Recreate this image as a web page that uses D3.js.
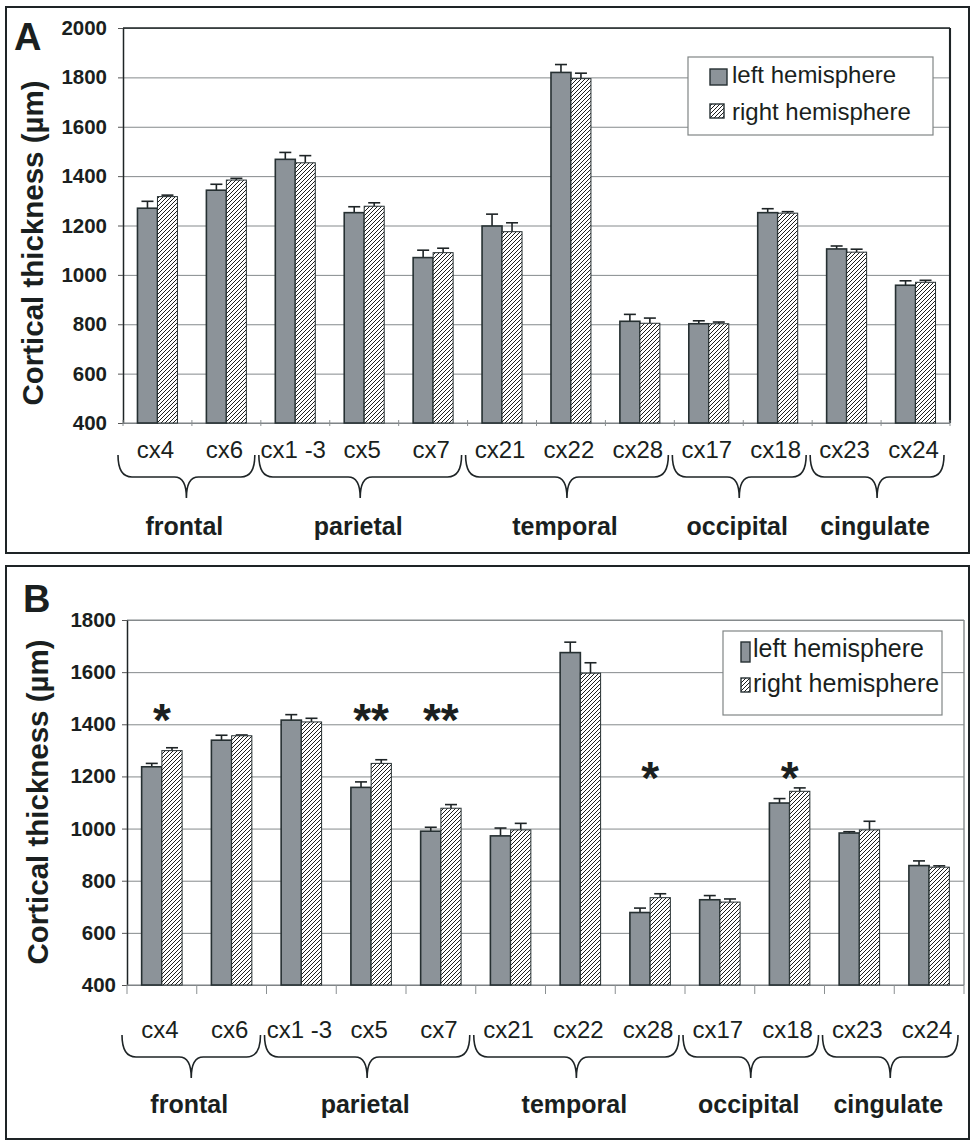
<!DOCTYPE html>
<html>
<head>
<meta charset="utf-8">
<script src="https://cdn.jsdelivr.net/npm/d3@7"></script>
<style>
  body { margin: 0; background: #fff; }
  svg { display: block; font-family: "Liberation Sans", Arial, sans-serif; }
</style>
</head>
<body>
<div id="chart"></div>
<script>
// cortical thickness per area, left vs right hemisphere (means and error bar heights)
var categories = ["cx4", "cx6", "cx1 -3", "cx5", "cx7", "cx21", "cx22", "cx28", "cx17", "cx18", "cx23", "cx24"];
var groupNames = ["frontal", "parietal", "temporal", "occipital", "cingulate"];
var groupSizes = [2, 3, 3, 2, 2];
var seriesNames = ["left hemisphere", "right hemisphere"];

// panel A
var leftA = [1270, 1343, 1468, 1252, 1070, 1198, 1820, 812, 802, 1252, 1105, 958];
var leftErrA = [28, 24, 28, 24, 30, 48, 32, 28, 12, 16, 12, 18];
var rightA = [1317, 1384, 1454, 1278, 1090, 1175, 1795, 804, 802, 1250, 1092, 970];
var rightErrA = [6, 7, 29, 14, 18, 36, 22, 21, 7, 6, 12, 8];
var ticksA = [400, 600, 800, 1000, 1200, 1400, 1600, 1800, 2000];

// panel B
var leftB = [1237, 1339, 1416, 1158, 990, 972, 1675, 678, 727, 1098, 983, 858];
var leftErrB = [13, 19, 21, 21, 15, 30, 40, 17, 16, 17, 5, 18];
var rightB = [1299, 1356, 1409, 1250, 1078, 995, 1596, 735, 718, 1143, 995, 852];
var rightErrB = [11, 3, 14, 14, 14, 25, 40, 15, 12, 13, 33, 5];
var ticksB = [400, 600, 800, 1000, 1200, 1400, 1600, 1800];

// significance marks in panel B
var sigCats = ["cx4", "cx5", "cx7", "cx28", "cx18"];
var sigMarks = ["*", "**", "**", "*", "*"];
var sigLevel = [1455, 1455, 1455, 1232, 1232];

var svg = d3.select("#chart").append("svg")
    .attr("width", 971)
    .attr("height", 1140);

var defs = svg.append("defs");
var pat = defs.append("pattern")
    .attr("id", "hatch")
    .attr("patternUnits", "userSpaceOnUse")
    .attr("width", 4)
    .attr("height", 4);
pat.append("rect").attr("width", 4).attr("height", 4).attr("fill", "#fff");
pat.append("path")
    .attr("d", "M-1,1 l2,-2 M0,4 l4,-4 M3,5 l2,-2")
    .attr("stroke", "#1e1e1e")
    .attr("stroke-width", 1);

var leftFill = "#8c9399";
var barStroke = "#263032";

function drawPanel(cfg) {
  var g = svg.append("g");

  // panel frame
  g.append("rect")
      .attr("x", cfg.box[0]).attr("y", cfg.box[1])
      .attr("width", cfg.box[2]).attr("height", cfg.box[3])
      .attr("fill", "none").attr("stroke", "#1e2426").attr("stroke-width", 2);

  g.append("text")
      .attr("x", cfg.letterPos[0]).attr("y", cfg.letterPos[1])
      .attr("font-size", 38).attr("font-weight", "bold").attr("fill", "#1a1f20")
      .text(cfg.letter);

  var x = d3.scaleBand()
      .domain(categories)
      .range([cfg.left, cfg.right])
      .paddingInner(0).paddingOuter(0);

  var y = d3.scaleLinear()
      .domain(cfg.domain)
      .range([cfg.bottom, cfg.top]);

  var barW = x.bandwidth() * 0.29;
  var xs = d3.scaleBand()
      .domain(["left", "right"])
      .range([x.bandwidth() / 2 - barW, x.bandwidth() / 2 + barW]);

  // grid
  g.append("g")
      .attr("transform", "translate(" + cfg.left + ",0)")
      .call(d3.axisLeft(y).tickValues(cfg.ticks).tickSize(-(cfg.right - cfg.left)).tickFormat(""))
      .call(function(a) { a.select(".domain").remove(); })
      .selectAll("line").attr("stroke", "#858a8c").attr("stroke-width", 1);

  // plot border top / right
  g.append("line")
      .attr("x1", cfg.left).attr("x2", cfg.right).attr("y1", cfg.top).attr("y2", cfg.top)
      .attr("stroke", cfg.frameColor).attr("stroke-width", cfg.frameWidth);
  g.append("line")
      .attr("x1", cfg.right).attr("x2", cfg.right).attr("y1", cfg.top).attr("y2", cfg.bottom)
      .attr("stroke", cfg.frameColor).attr("stroke-width", cfg.frameWidth * 1.4);

  // y axis
  var yAxis = g.append("g")
      .attr("transform", "translate(" + cfg.left + ",0)")
      .call(d3.axisLeft(y).tickValues(cfg.ticks).tickFormat(d3.format("d"))
        .tickSize(5).tickPadding(cfg.tickPad).tickSizeOuter(0));
  yAxis.select(".domain").attr("stroke", "#1e2426").attr("stroke-width", 1.5);
  yAxis.selectAll(".tick line").attr("stroke", "#555");
  yAxis.selectAll(".tick text")
      .attr("font-size", 20.5).attr("font-weight", "bold").attr("fill", "#1a1f20")
      .attr("font-family", "Liberation Sans, Arial, sans-serif");

  g.append("text")
      .attr("transform", "translate(" + cfg.yLabelPos[0] + "," + cfg.yLabelPos[1] + ") rotate(-90)")
      .attr("text-anchor", "middle")
      .attr("dominant-baseline", "central")
      .attr("font-size", 29.5).attr("font-weight", "bold").attr("fill", "#1a1f20")
      .text("Cortical thickness (µm)");

  // baseline + category separators
  g.append("line")
      .attr("x1", cfg.left).attr("x2", cfg.right).attr("y1", cfg.bottom).attr("y2", cfg.bottom)
      .attr("stroke", "#7a7f81").attr("stroke-width", 1.2);
  var seps = categories.map(function(c) { return x(c); }).concat([cfg.right]);
  g.selectAll(".sep").data(seps).enter().append("line")
      .attr("x1", function(d) { return d; }).attr("x2", function(d) { return d; })
      .attr("y1", cfg.bottom - cfg.sepUp).attr("y2", cfg.bottom + cfg.sepDown)
      .attr("stroke", "#8a8f91").attr("stroke-width", 1);

  // bars
  var rows = categories.map(function(c, i) {
    return [
      { cat: c, key: "left", v: cfg.left_[i], e: cfg.leftErr[i] },
      { cat: c, key: "right", v: cfg.right_[i], e: cfg.rightErr[i] }
    ];
  });
  var flat = d3.merge(rows);

  // error bars drawn first so the bar outline sits over them
  var eb = g.selectAll(".err").data(flat).enter().append("g").attr("class", "err");
  eb.append("line")
      .attr("x1", function(d) { return x(d.cat) + xs(d.key) + xs.bandwidth() / 2; })
      .attr("x2", function(d) { return x(d.cat) + xs(d.key) + xs.bandwidth() / 2; })
      .attr("y1", function(d) { return y(d.v); })
      .attr("y2", function(d) { return y(d.v + d.e); })
      .attr("stroke", "#1e2426").attr("stroke-width", 1.6);
  eb.append("line")
      .attr("x1", function(d) { return x(d.cat) + xs(d.key) + xs.bandwidth() / 2 - 6; })
      .attr("x2", function(d) { return x(d.cat) + xs(d.key) + xs.bandwidth() / 2 + 6; })
      .attr("y1", function(d) { return y(d.v + d.e); })
      .attr("y2", function(d) { return y(d.v + d.e); })
      .attr("stroke", "#1e2426").attr("stroke-width", 1.6);

  g.selectAll(".bar").data(flat).enter().append("rect")
      .attr("class", "bar")
      .attr("x", function(d) { return x(d.cat) + xs(d.key); })
      .attr("width", xs.bandwidth())
      .attr("y", function(d) { return y(d.v); })
      .attr("height", function(d) { return y(cfg.domain[0]) - y(d.v); })
      .attr("fill", function(d) { return d.key === "left" ? leftFill : "url(#hatch)"; })
      .attr("stroke", barStroke)
      .attr("stroke-width", function(d) { return d.key === "left" ? 1.6 : 1; });

  // category labels
  g.selectAll(".cat").data(categories).enter().append("text")
      .attr("x", function(d) { return x(d) + x.bandwidth() / 2 - 2; })
      .attr("y", cfg.catY)
      .attr("text-anchor", "middle")
      .attr("font-size", 24).attr("fill", "#1a1f20")
      .text(function(d) { return d; });

  // braces and region names
  var start = 0;
  groupNames.forEach(function(name, gi) {
    var first = categories[start];
    var last = categories[start + groupSizes[gi] - 1];
    start += groupSizes[gi];
    var x0 = x(first) - 2 + (gi === 0 ? -3 : 0);
    var x1 = x(last) + x.bandwidth() - 6;
    var xt = (x0 + x1) / 2;
    var b = cfg.brace;
    var r = 14;
    var p = "M" + x0 + "," + b[0] +
        " Q" + x0 + "," + b[1] + " " + (x0 + r) + "," + b[1] +
        " L" + (xt - 12) + "," + b[1] +
        " Q" + xt + "," + b[1] + " " + xt + "," + b[2] +
        " M" + x1 + "," + b[0] +
        " Q" + x1 + "," + b[1] + " " + (x1 - r) + "," + b[1] +
        " L" + (xt + 12) + "," + b[1] +
        " Q" + xt + "," + b[1] + " " + xt + "," + b[2];
    g.append("path").attr("d", p)
        .attr("fill", "none").attr("stroke", "#1e2426").attr("stroke-width", 1.6);
    g.append("text")
        .attr("x", xt - 2).attr("y", cfg.groupY)
        .attr("text-anchor", "middle")
        .attr("font-size", 25).attr("font-weight", "bold").attr("fill", "#1a1f20")
        .text(name);
  });

  // legend
  var L = cfg.legend;
  g.append("rect")
      .attr("x", L.box[0]).attr("y", L.box[1]).attr("width", L.box[2]).attr("height", L.box[3])
      .attr("fill", "#fff").attr("stroke", "#808585").attr("stroke-width", 1.2);
  seriesNames.forEach(function(s, i) {
    var sw = L.swatch[i];
    g.append("rect")
        .attr("x", sw[0]).attr("y", sw[1]).attr("width", sw[2]).attr("height", sw[3])
        .attr("fill", i === 0 ? leftFill : "url(#hatch)")
        .attr("stroke", barStroke).attr("stroke-width", 1.4);
    g.append("text")
        .attr("x", L.textX).attr("y", L.textY[i])
        .attr("font-size", L.fontSize).attr("fill", "#1a1f20")
        .text(s);
  });

  return { x: x, y: y, g: g };
}

var panelA = drawPanel({
  box: [6, 7, 963, 546],
  letter: "A", letterPos: [14, 50],
  left: 123, right: 950, top: 28, bottom: 423,
  domain: [400, 2000], ticks: ticksA, tickPad: 11,
  frameColor: "#1e2426", frameWidth: 1.5,
  sepUp: 3, sepDown: 3,
  yLabelPos: [32, 243],
  left_: leftA, leftErr: leftErrA, right_: rightA, rightErr: rightErrA,
  catY: 458, brace: [455, 477, 498], groupY: 535,
  legend: {
    box: [688, 57, 245, 78],
    swatch: [[710, 69, 17, 16], [710, 104, 14, 14]],
    textX: 732, textY: [83, 120], fontSize: 24
  }
});

var panelB = drawPanel({
  box: [6, 566, 963, 573],
  letter: "B", letterPos: [23, 612],
  left: 127, right: 964, top: 620, bottom: 985,
  domain: [400, 1800], ticks: ticksB, tickPad: 6,
  frameColor: "#858a8c", frameWidth: 1,
  sepUp: 0, sepDown: 9,
  yLabelPos: [37, 802],
  left_: leftB, leftErr: leftErrB, right_: rightB, rightErr: rightErrB,
  catY: 1038, brace: [1035, 1057, 1078], groupY: 1113,
  legend: {
    box: [723, 631, 219, 84],
    swatch: [[741, 642, 9, 20], [741, 678, 9, 14]],
    textX: 753, textY: [657, 692], fontSize: 25
  }
});

// asterisks
panelB.g.selectAll(".sig").data(sigCats).enter().append("text")
    .attr("x", function(d) { return panelB.x(d) + panelB.x.bandwidth() / 2; })
    .attr("y", function(d, i) { return panelB.y(sigLevel[i]) + 26; })
    .attr("text-anchor", "middle")
    .attr("font-size", 46).attr("font-weight", "bold").attr("fill", "#1a1f20")
    .text(function(d, i) { return sigMarks[i]; });
</script>
</body>
</html>
